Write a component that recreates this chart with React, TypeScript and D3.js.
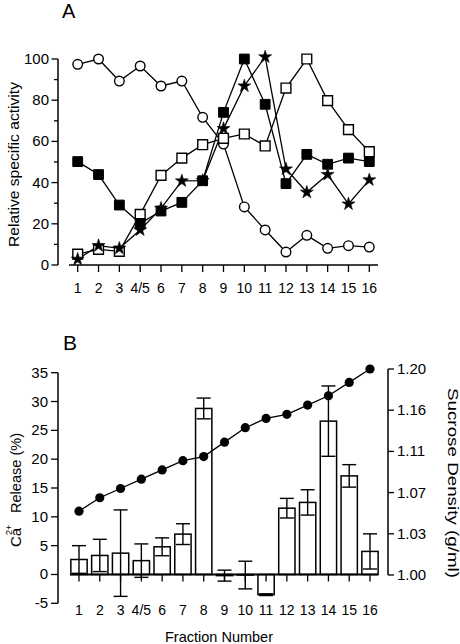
import React from "react";
import * as d3 from "d3";

const categories = ["1", "2", "3", "4/5", "6", "7", "8", "9", "10", "11", "12", "13", "14", "15", "16"];
const openCircles = [97.4, 100, 89.3, 96.6, 86.9, 89.3, 71.7, 58.7, 28.2, 17, 6.3, 14.4, 8.1, 9.4, 8.7];
const filledSquares = [50.2, 43.9, 29.1, 20.2, 26.2, 30.4, 40.9, 74.1, 100, 78, 39.5, 53.7, 48.9, 51.9, 50.2];
const openSquares = [5.3, 7.6, 6.6, 24.6, 43.5, 51.9, 58.4, 61.5, 63.6, 57.8, 85.9, 100, 79.8, 65.7, 55];
const stars = [2.8, 9.4, 8.1, 17, 27.5, 40.8, 41, 66.2, 86.9, 101, 46.6, 35.3, 43.9, 29.6, 41.3];
const caRelease = [2.6, 3.3, 3.7, 2.4, 4.8, 7.0, 28.8, -0.2, -0.1, -3.5, 11.5, 12.5, 26.6, 17.1, 4.0];
const caError = [2.4, 2.8, 7.5, 2.9, 1.55, 1.8, 1.8, 0.95, 2.4, 0.15, 1.7, 2.2, 6.1, 1.95, 3.05];
const sucroseDensity = [1.062, 1.075, 1.084, 1.093, 1.102, 1.111, 1.115, 1.129, 1.143, 1.152, 1.156, 1.165, 1.174, 1.187, 1.2];
const activityTicks = [0, 20, 40, 60, 80, 100];
const activityMinorTicks = [10, 30, 50, 70, 90];
const releaseTicks = [-5, 0, 5, 10, 15, 20, 25, 30, 35];
const densityTicks = [1.0, 1.04, 1.08, 1.12, 1.16, 1.2];
const densityTickLabels = ["1.00", "1.03", "1.07", "1.11", "1.16", "1.20"];

const FONT = "'Liberation Sans', Arial, Helvetica, sans-serif";

export default function App() {
  const xA = d3.scalePoint<string>().domain(categories).range([77.7, 369.3]);
  const yA = d3.scaleLinear().domain([0, 100]).range([265, 59]);
  const xB = d3.scalePoint<string>().domain(categories).range([79, 370]);
  const yB = d3.scaleLinear().domain([-5, 35]).range([603.3, 372.7]);
  const yR = d3.scaleLinear().domain([1.0, 1.2]).range([575, 369]);

  const lineA = (vals: number[]) =>
    d3.line<number>().x((_, i) => xA(categories[i])!).y((v) => yA(v))(vals) || "";
  const sq = d3.symbol().type(d3.symbolSquare).size(96)() || "";
  const star = d3.symbol().type(d3.symbolStar).size(52)() || "";
  const densityLine =
    d3.line<number>().x((_, i) => xB(categories[i])!).y((v) => yR(v))(sucroseDensity) || "";

  const stroke = "#000";
  const barW = 16.3;
  const capW = 14;

  return (
    <svg
      width={460}
      height={644}
      style={{ position: "absolute", left: 0, top: 0, background: "#fff" }}
      fontFamily={FONT}
    >
      <rect x={0} y={0} width={460} height={644} fill="#fff" />
      {/* Panel A */}
      <text x={62} y={18} fontSize={20}>A</text>
      <line x1={58} x2={58} y1={yA(100)} y2={yA(0)} stroke={stroke} strokeWidth={1.5} />
      {activityTicks.map((t) => (
        <g key={"ta" + t}>
          <line x1={51.5} x2={58} y1={yA(t)} y2={yA(t)} stroke={stroke} strokeWidth={1.3} />
          <text x={49} y={yA(t) + 5} fontSize={15} textAnchor="end">{t}</text>
        </g>
      ))}
      {activityMinorTicks.map((t) => (
        <line key={"tm" + t} x1={54} x2={58} y1={yA(t)} y2={yA(t)} stroke={stroke} strokeWidth={1.3} />
      ))}
      <line x1={69} x2={378} y1={265} y2={265} stroke={stroke} strokeWidth={1.5} />
      {categories.map((c) => (
        <g key={"xa" + c}>
          <line x1={xA(c)} x2={xA(c)} y1={265} y2={272} stroke={stroke} strokeWidth={1.3} />
          <text x={xA(c)} y={293} fontSize={14} textAnchor="middle">{c}</text>
        </g>
      ))}
      <text
        transform="translate(19,164.5) rotate(-90)"
        fontSize={14.5}
        textAnchor="middle"
        textLength={165}
        lengthAdjust="spacingAndGlyphs"
      >
        Relative specific activity
      </text>

      <path d={lineA(openCircles)} fill="none" stroke={stroke} strokeWidth={1.3} />
      <path d={lineA(openSquares)} fill="none" stroke={stroke} strokeWidth={1.3} />
      <path d={lineA(filledSquares)} fill="none" stroke={stroke} strokeWidth={1.3} />
      <path d={lineA(stars)} fill="none" stroke={stroke} strokeWidth={1.3} />
      {openCircles.map((v, i) => (
        <circle key={"oc" + i} cx={xA(categories[i])} cy={yA(v)} r={4.8} fill="#fff" stroke={stroke} strokeWidth={1.4} />
      ))}
      {openSquares.map((v, i) => (
        <path key={"os" + i} d={sq} transform={`translate(${xA(categories[i])},${yA(v)})`} fill="#fff" stroke={stroke} strokeWidth={1.4} />
      ))}
      {filledSquares.map((v, i) => (
        <path key={"fs" + i} d={sq} transform={`translate(${xA(categories[i])},${yA(v)})`} fill="#000" stroke={stroke} strokeWidth={1} />
      ))}
      {stars.map((v, i) => (
        <path key={"st" + i} d={star} transform={`translate(${xA(categories[i])},${yA(v)})`} fill="#000" stroke={stroke} strokeWidth={0.6} />
      ))}

      {/* Panel B */}
      <text x={63} y={350} fontSize={21}>B</text>
      <line x1={58} x2={58} y1={yB(35)} y2={yB(-5)} stroke={stroke} strokeWidth={1.5} />
      {releaseTicks.map((t) => (
        <g key={"tb" + t}>
          <line x1={51} x2={58} y1={yB(t)} y2={yB(t)} stroke={stroke} strokeWidth={1.3} />
          <text x={48} y={yB(t) + 5} fontSize={15} textAnchor="end">{t}</text>
        </g>
      ))}
      <line x1={388} x2={388} y1={yR(1.2)} y2={yR(1.0)} stroke={stroke} strokeWidth={1.5} />
      {densityTicks.map((t, i) => (
        <g key={"tr" + i}>
          <line x1={388} x2={394} y1={yR(t)} y2={yR(t)} stroke={stroke} strokeWidth={1.3} />
          <text x={397} y={yR(t) + 5} fontSize={15} textAnchor="start">{densityTickLabels[i]}</text>
        </g>
      ))}

      {caRelease.map((v, i) => {
        const cx = xB(categories[i])!;
        const y0 = yB(0);
        const y1 = yB(v);
        return (
          <rect
            key={"bar" + i}
            x={cx - barW / 2}
            y={Math.min(y0, y1)}
            width={barW}
            height={Math.abs(y1 - y0)}
            fill="#fff"
            stroke={stroke}
            strokeWidth={1.5}
          />
        );
      })}
      {caRelease.map((v, i) => {
        const cx = xB(categories[i])!;
        const hi = yB(v + caError[i]);
        const lo = yB(v - caError[i]);
        return (
          <g key={"err" + i} stroke={stroke} strokeWidth={1.4}>
            <line x1={cx} x2={cx} y1={hi} y2={lo} />
            <line x1={cx - capW / 2} x2={cx + capW / 2} y1={hi} y2={hi} />
            <line x1={cx - capW / 2} x2={cx + capW / 2} y1={lo} y2={lo} />
          </g>
        );
      })}
      <line x1={70} x2={378} y1={yB(0)} y2={yB(0)} stroke={stroke} strokeWidth={2} />
      {categories.map((c) => (
        <g key={"xb" + c}>
          <line x1={xB(c)} x2={xB(c)} y1={yB(0)} y2={yB(0) + 7} stroke={stroke} strokeWidth={1.3} />
          <text x={xB(c)} y={615} fontSize={14} textAnchor="middle">{c}</text>
        </g>
      ))}
      <path d={densityLine} fill="none" stroke={stroke} strokeWidth={1.3} />
      {sucroseDensity.map((v, i) => (
        <circle key={"sd" + i} cx={xB(categories[i])} cy={yR(v)} r={4.6} fill="#000" />
      ))}

      <text transform="translate(21,547) rotate(-90)" fontSize={15}>Ca</text>
      <text transform="translate(12,535) rotate(-90)" fontSize={9}>2+</text>
      <text transform="translate(21,513) rotate(-90)" fontSize={14.5} textLength={80} lengthAdjust="spacingAndGlyphs">
        Release (%)
      </text>
      <text
        transform="translate(448,388) rotate(90)"
        fontSize={14.5}
        textLength={190}
        lengthAdjust="spacingAndGlyphs"
      >
        Sucrose Density (g/ml)
      </text>
      <text x={219} y={642} fontSize={14.5} textAnchor="middle">Fraction Number</text>
    </svg>
  );
}
